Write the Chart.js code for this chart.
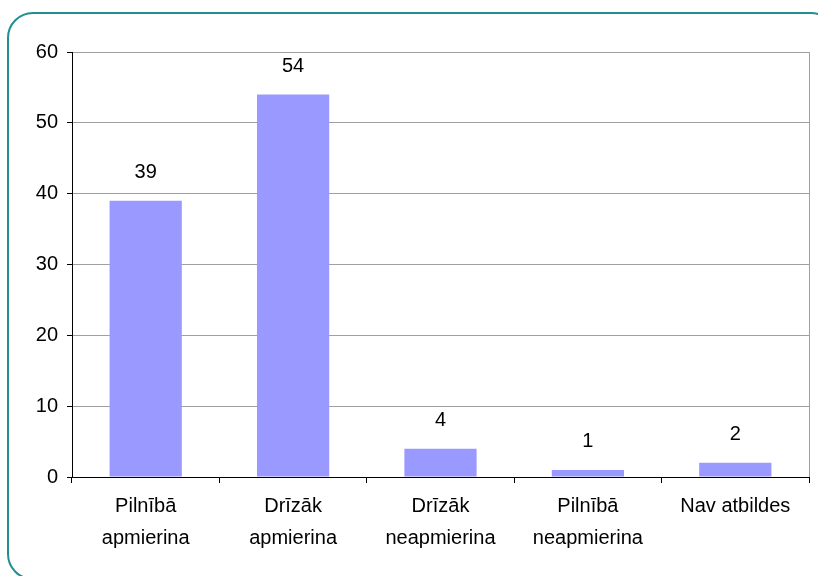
<!DOCTYPE html>
<html>
<head>
<meta charset="utf-8">
<script src="https://cdn.jsdelivr.net/npm/chart.js@4"></script>
<style>
  html, body { margin: 0; padding: 0; background: #fff; overflow: hidden; }
  #wrap { position: relative; width: 818px; height: 576px; }
  #frame { position: absolute; left: 7px; top: 12px; width: 830px; height: 568px;
           border: 2px solid #1f8f8f; border-radius: 26px; box-sizing: border-box; }
  canvas { position: absolute; left: 0; top: 0; }
</style>
</head>
<body>
<div id="wrap">
  <div id="frame"></div>
  <canvas id="myChart" width="818" height="576"></canvas>
</div>
<script>
// kategorijas un vērtības
const categories = [
  ['Pilnībā', 'apmierina'],
  ['Drīzāk', 'apmierina'],
  ['Drīzāk', 'neapmierina'],
  ['Pilnībā', 'neapmierina'],
  'Nav atbildes'
];
const values = [39, 54, 4, 1, 2];
const yTicks = [0, 10, 20, 30, 40, 50, 60];

const FONT = 'Liberation Sans, Arial, sans-serif';

/* vērtības virs stabiņiem + labā robeža */
const extras = {
  id: 'extras',
  afterDatasetsDraw(chart) {
    const ctx = chart.ctx;
    const area = chart.chartArea;
    ctx.save();
    ctx.strokeStyle = '#a0a0a0';
    ctx.lineWidth = 1;
    ctx.beginPath();
    ctx.moveTo(Math.round(area.right) + 0.5, area.top);
    ctx.lineTo(Math.round(area.right) + 0.5, area.bottom);
    ctx.stroke();

    ctx.fillStyle = '#000';
    ctx.font = '20px ' + FONT;
    ctx.textAlign = 'center';
    ctx.textBaseline = 'middle';
    chart.getDatasetMeta(0).data.forEach((bar, i) => {
      ctx.fillText(String(values[i]), bar.x, bar.y - 28);
    });
    ctx.restore();
  }
};

const ctx = document.getElementById('myChart');
const chart = new Chart(ctx, {
  type: 'bar',
  data: {
    labels: categories,
    datasets: [{
      data: values,
      backgroundColor: '#9999ff',
      borderWidth: 0,
      categoryPercentage: 1,
      barPercentage: 0.49
    }]
  },
  options: {
    responsive: false,
    animation: false,
    devicePixelRatio: 1,
    layout: { padding: { left: 0, top: 52, right: 9, bottom: 0 } },
    plugins: { legend: { display: false }, tooltip: { enabled: false } },
    scales: {
      x: {
        grid: { drawOnChartArea: false, drawTicks: true, tickLength: 6, tickColor: '#000', offset: true },
        border: { color: '#000', width: 1 },
        ticks: { color: '#000', padding: 7, maxRotation: 0, autoSkip: false,
                 font: { family: FONT, size: 20, lineHeight: 1.6 } },
        afterFit: (s) => { s.height = 99; }
      },
      y: {
        min: 0, max: 60,
        afterBuildTicks: (s) => { s.ticks = yTicks.map(v => ({ value: v })); },
        grid: { color: '#a0a0a0', tickColor: '#000', tickLength: 5 },
        border: { color: '#000', width: 1 },
        ticks: { color: '#000', padding: 9, font: { family: FONT, size: 20 } },
        afterFit: (s) => { s.width = 72; }
      }
    }
  },
  plugins: [extras]
});
</script>
</body>
</html>
